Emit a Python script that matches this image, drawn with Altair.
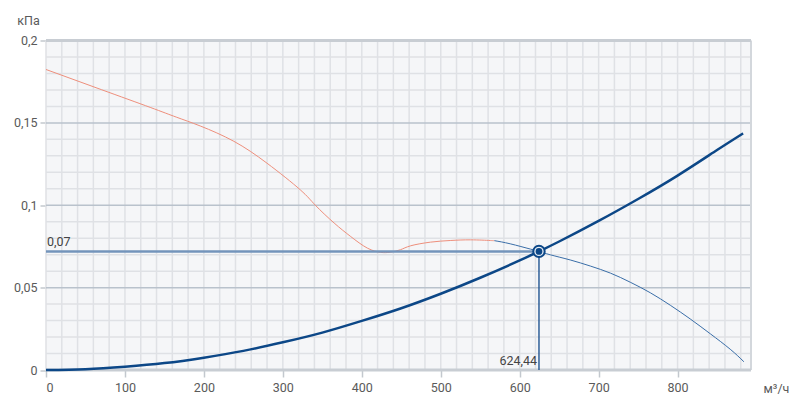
import altair as alt
import pandas as pd

# ---- data ----
sys_q = [0, 50, 100, 150, 200, 250, 300, 350, 400, 450, 500, 550, 600, 624.44, 650, 700, 750, 800, 850, 883]
sys_p = [0, 0.0005, 0.002, 0.0042, 0.0075, 0.0116, 0.0168, 0.0227, 0.0298, 0.0375, 0.0463, 0.056, 0.0665, 0.072, 0.078, 0.0905, 0.1038, 0.118, 0.1335, 0.1436]

fan_red_q = [0, 70, 132, 165, 196, 238, 280, 322, 341, 365, 386, 407, 424, 436, 449, 462, 487, 512, 538, 563, 568]
fan_red_p = [0.1824, 0.1702, 0.1594, 0.1535, 0.148, 0.1388, 0.1255, 0.1094, 0.1001, 0.0892, 0.081, 0.074, 0.0714, 0.0715, 0.073, 0.0754, 0.0776, 0.0786, 0.079, 0.0786, 0.0785]

fan_blue_q = [568, 588, 613.5, 624.44, 639, 664, 689.5, 715, 740, 765.4, 790.8, 816, 841.4, 866.7, 884]
fan_blue_p = [0.0785, 0.0766, 0.0734, 0.072, 0.0699, 0.0668, 0.0631, 0.0588, 0.0533, 0.0469, 0.0393, 0.031, 0.022, 0.0126, 0.005]

op_q = 624.44
op_p = 0.072
op_q_label = "624,44"
op_p_label = "0,07"

x_ticks = [0, 100, 200, 300, 400, 500, 600, 700, 800]
y_ticks = [0, 0.05, 0.1, 0.15, 0.2]
x_max = 893
y_max = 0.2
grid_x = list(range(0, 881, 20))
grid_y_minor = [round(i * 0.01, 2) for i in range(1, 20) if i % 5 != 0]
grid_y_major = [0.05, 0.1, 0.15]
border_y = [0, 0.2]

# ---- scales / axes ----
xs = alt.Scale(domain=[0, x_max], nice=False, zero=False)
ys = alt.Scale(domain=[0, y_max], nice=False, zero=False)
fmt = "replace(format(datum.value, '~g'), '.', ',')"
FONT = "Roboto"
TXT = "#5a5a5a"

x_axis = alt.Axis(
    values=x_ticks, labelExpr=fmt, grid=False, domain=False,
    tickColor="#c3c8ce", tickSize=7, tickWidth=1.5,
    labelFont=FONT, labelFontSize=12.5, labelColor=TXT, labelPadding=4,
    title="м³/ч", titleFont=FONT, titleFontSize=12.5, titleFontWeight="normal",
    titleColor=TXT, titleX=730, titleY=18, titleAlign="center",
    titleBaseline="middle", titleAnchor="start",
)
y_axis = alt.Axis(
    values=y_ticks, labelExpr=fmt, grid=False, domain=False,
    tickColor="#c3c8ce", tickSize=6, tickWidth=1.5,
    labelFont=FONT, labelFontSize=12.5, labelColor=TXT, labelPadding=3,
    title="кПа", titleFont=FONT, titleFontSize=12.5, titleFontWeight="normal",
    titleColor=TXT, titleAngle=0, titleX=-18, titleY=-20,
    titleAlign="center", titleBaseline="middle", titleAnchor="start",
)


def X(field):
    return alt.X(field, type="quantitative", scale=xs, axis=x_axis)


def Y(field):
    return alt.Y(field, type="quantitative", scale=ys, axis=y_axis)


# ---- grid ----
gx = pd.DataFrame({"Q": grid_x, "P0": 0.0, "P1": y_max})
vgrid = alt.Chart(gx).mark_rule(color="#dfe1e5", strokeWidth=1.5).encode(
    x=X("Q"), y=Y("P0"), y2="P1")

gym = pd.DataFrame({"P": grid_y_minor, "Q0": 0.0, "Q1": float(x_max)})
hgrid_minor = alt.Chart(gym).mark_rule(color="#dfe1e5", strokeWidth=1.5).encode(
    y=Y("P"), x=X("Q0"), x2="Q1")

gyM = pd.DataFrame({"P": grid_y_major, "Q0": 0.0, "Q1": float(x_max)})
hgrid_major = alt.Chart(gyM).mark_rule(color="#b9c2cc", strokeWidth=1.5).encode(
    y=Y("P"), x=X("Q0"), x2="Q1")

right_border = alt.Chart(pd.DataFrame({"Q": [float(x_max)], "P0": [0.0], "P1": [y_max]})).mark_rule(
    color="#d3d7dc", strokeWidth=2).encode(x=X("Q"), y=Y("P0"), y2="P1")

gb = pd.DataFrame({"P": border_y, "Q0": 0.0, "Q1": float(x_max)})
borders = alt.Chart(gb).mark_rule(color="#c8cdd3", strokeWidth=3).encode(
    y=Y("P"), x=X("Q0"), x2="Q1")

# ---- curves ----
fan_red = alt.Chart(pd.DataFrame({"Q": fan_red_q, "P": fan_red_p})).mark_line(
    color="#ee8f7c", strokeWidth=1, interpolate="natural").encode(x=X("Q"), y=Y("P"))
fan_blue = alt.Chart(pd.DataFrame({"Q": fan_blue_q, "P": fan_blue_p})).mark_line(
    color="#3a6ea8", strokeWidth=1, interpolate="natural").encode(x=X("Q"), y=Y("P"))

op = pd.DataFrame({"Q": [op_q], "P": [op_p], "Q0": [0.0], "P0": [0.0],
                   "lq": [op_q_label], "lp": [op_p_label]})

hline = alt.Chart(op).mark_rule(color="#7394bb", strokeWidth=2.5).encode(
    x=X("Q0"), x2="Q", y=Y("P"))
vline = alt.Chart(op).mark_rule(color="#2f5f98", strokeWidth=1.5).encode(
    x=X("Q"), y=Y("P0"), y2="P")

system = alt.Chart(pd.DataFrame({"Q": sys_q, "P": sys_p})).mark_line(
    color="#0c4787", strokeWidth=2.5, interpolate="natural").encode(x=X("Q"), y=Y("P"))

ring = alt.Chart(op).mark_point(shape="circle", size=130, filled=False, fill="#e6edf5",
                                fillOpacity=1, stroke="#0c4787", strokeWidth=2,
                                opacity=1).encode(x=X("Q"), y=Y("P"))
dot = alt.Chart(op).mark_circle(size=45, color="#0c4787", opacity=1).encode(
    x=X("Q"), y=Y("P"))

lab_p = alt.Chart(op).mark_text(align="left", baseline="bottom", dx=1, dy=-2,
                                font=FONT, fontSize=12.5, color="#444444").encode(
    x=X("Q0"), y=Y("P"), text="lp")
lab_q = alt.Chart(op).mark_text(align="right", baseline="bottom", dx=-2, dy=-2,
                                font=FONT, fontSize=12.5, color="#444444").encode(
    x=X("Q"), y=Y("P0"), text="lq")

chart = alt.layer(
    vgrid, hgrid_minor, hgrid_major, right_border, borders,
    fan_red, fan_blue, hline, vline, system, ring, dot, lab_p, lab_q
).properties(
    width=705, height=329.5,
    autosize=alt.AutoSizeParams(type="none"),
    padding={"left": 38, "top": 32.5, "right": 40, "bottom": 30},
    background="white",
).configure_view(stroke=None, fill="#f5f6f8")

chart.save("out.html", embed_options={"renderer": "svg", "actions": False})
